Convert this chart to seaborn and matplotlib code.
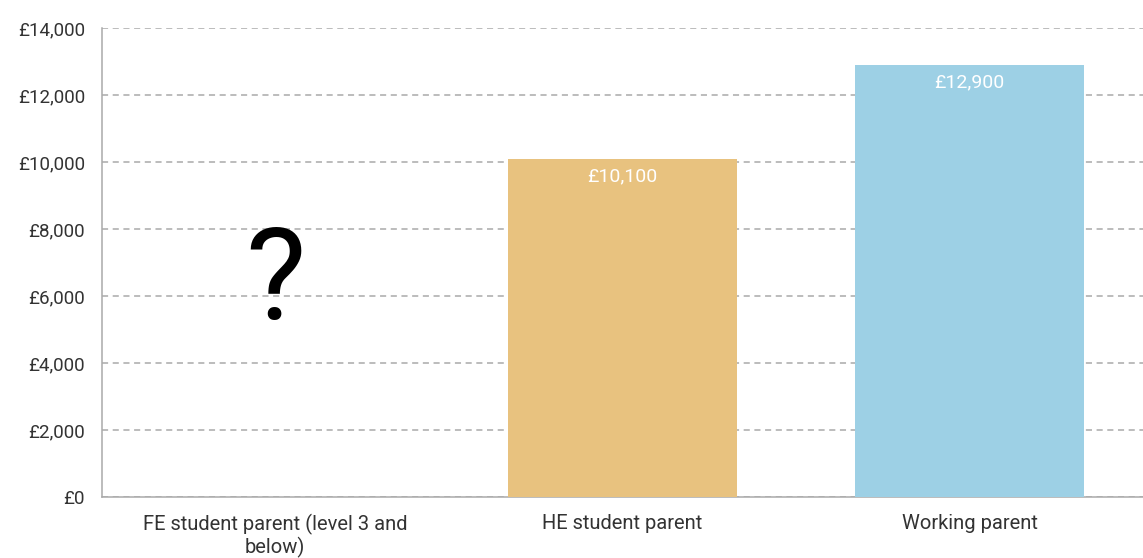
import numpy as np
import pandas as pd
import matplotlib
matplotlib.use("Agg")
import matplotlib.pyplot as plt
import seaborn as sns

categories = ["FE student parent (level 3 and\nbelow)", "HE student parent", "Working parent"]
values = [np.nan, 10100, 12900]
labels = ["?", "£10,100", "£12,900"]
colors = ["#FFFFFF", "#E8C27F", "#9DD0E5"]
yticks = [0, 2000, 4000, 6000, 8000, 10000, 12000, 14000]
ytick_labels = ["£0", "£2,000", "£4,000", "£6,000", "£8,000", "£10,000", "£12,000", "£14,000"]

sns.set_theme(style="white")
plt.rcParams['font.family'] = ['Roboto', 'DejaVu Sans']

df = pd.DataFrame({"cat": categories, "val": values})

fig = plt.figure(figsize=(11.43, 5.58), dpi=100)
ax = fig.add_axes([0.089, 0.109, 0.911, 0.841])

sns.barplot(data=df, x="cat", y="val", hue="cat", palette=colors, legend=False,
            width=0.66, ax=ax, saturation=1, linewidth=0, zorder=3)

ax.set_xlim(-0.5, 2.5)
ax.set_ylim(0, 14000)
ax.set_yticks(yticks)
ax.set_yticklabels(ytick_labels)
ax.set_xlabel("")
ax.set_ylabel("")
ax.yaxis.grid(True, linestyle=(0, (4, 3)), color="#AAAAAA", linewidth=1.1, zorder=0)
ax.set_axisbelow(True)

for s in ["top", "right"]:
    ax.spines[s].set_visible(False)
for s in ["left", "bottom"]:
    ax.spines[s].set_color("#AAAAAA")
    ax.spines[s].set_linewidth(1.1)

ax.tick_params(axis="y", length=5, color="#AAAAAA", width=1.1, labelsize=13.5,
               labelcolor="#333333", pad=7)
ax.tick_params(axis="x", length=0, labelsize=14.5, labelcolor="#333333", pad=12)
for t in ax.get_xticklabels():
    t.set_linespacing(1.1)

for i, (v, lab) in enumerate(zip(values, labels)):
    if np.isnan(v):
        ax.text(i, 6350, lab, ha="center", va="center", fontsize=92,
                color="#000000", zorder=4)
    else:
        ax.text(i, v - 250, lab, ha="center", va="top", fontsize=14,
                color="#FFFFFF", zorder=4)

fig.savefig("out.png", dpi=100)
